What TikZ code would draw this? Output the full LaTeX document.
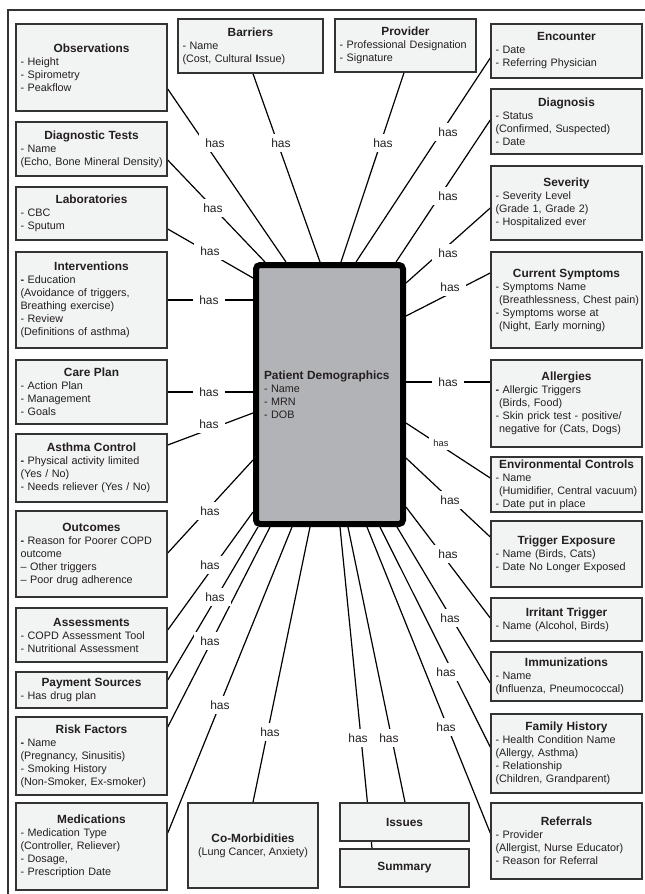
\documentclass[tikz,border=0pt]{standalone}
\usepackage{fontspec}
\setmainfont{Liberation Sans}
\usetikzlibrary{backgrounds}
\definecolor{boxfill}{RGB}{242,243,243}
\definecolor{boxline}{RGB}{51,51,51}
\definecolor{pdfill}{RGB}{178,179,183}
\definecolor{txt}{RGB}{35,31,32}
\newcommand{\ttl}[1]{\makebox[\linewidth]{\fontsize{8.9}{10}\selectfont\bfseries #1}}
\newcommand{\ttlc}[1]{{\fontsize{8.9}{10}\selectfont\bfseries #1}}
\begin{document}
\begin{tikzpicture}[x=0.75pt,y=-0.75pt,
  font=\fontsize{8.1}{9.75}\selectfont, text=txt,
  bx/.style={draw=boxline, line width=1.1pt, fill=boxfill, inner xsep=3.375pt, inner ysep=0pt, align=left},
  sbox/.style={bx, minimum width=113.25pt, text width=106.5pt},
  cbox/.style={bx, align=center},
  conn/.style={line width=0.9pt, draw=black},
  has/.style={fill=white, inner xsep=4.5pt, inner ysep=3.75pt, font=\fontsize{9}{10}\selectfont},
  smallhas/.style={has, font=\fontsize{7}{8}\selectfont, inner xsep=3pt, inner ysep=2.5pt},
  frame/.style={draw=boxline, line width=1pt}]
\useasboundingbox (0,0) rectangle (645,894);
\draw[frame] (8,894) -- (8,10) -- (645,10);

% central
\node[draw=black, line width=4.5pt, rounded corners=3pt, fill=pdfill, minimum width=110.25pt, minimum height=194.25pt, text width=98.25pt, inner xsep=6pt, inner ysep=0pt, align=left] (pd) at (329.5,394.5)
 {\ttlc{Patient Demographics}\\- Name\\- MRN\\- DOB};

% left column
\node[sbox, minimum height=65.25pt] (obs) at (91.5,67.5) {\ttl{Observations}\\- Height\\- Spirometry\\- Peakflow};
\node[sbox, minimum height=40.5pt] (diag) at (91.5,149) {\ttl{Diagnostic Tests}\\- Name\\\mbox{(Echo, Bone Mineral Density)}};
\node[sbox, minimum height=39.75pt] (lab) at (91.5,213.5) {\ttl{Laboratories}\\- CBC\\- Sputum};
\node[sbox, minimum height=72pt] (int) at (91.5,300) {\ttl{Interventions}\\\textbf{-} Education\\\mbox{(Avoidance of triggers,}\\\mbox{Breathing exercise)}\\- Review\\\mbox{(Definitions of asthma)}};
\node[sbox, minimum height=48pt] (care) at (91.5,392) {\ttl{Care Plan}\\- Action Plan\\- Management\\- Goals};
\node[sbox, minimum height=51pt] (asth) at (91.5,468) {\ttl{Asthma Control}\\\mbox{\textbf{-} Physical activity limited}\\(Yes / No)\\\mbox{- Needs reliever (Yes / No)}};
\node[sbox, minimum height=64.5pt] (outc) at (91.5,554) {\ttl{Outcomes}\\\mbox{\textbf{-} Reason for Poorer COPD}\\outcome\\\mbox{-- Other triggers}\\\mbox{-- Poor drug adherence}};
\node[sbox, minimum height=40.5pt] (assess) at (91.5,635) {\ttl{Assessments}\\\mbox{- COPD Assessment Tool}\\\mbox{- Nutritional Assessment}};
\node[sbox, minimum height=27pt] (pay) at (91.5,690) {\ttl{Payment Sources}\\- Has drug plan};
\node[sbox, minimum height=58.5pt] (risk) at (91.5,756) {\ttl{Risk Factors}\\\textbf{-} Name\\\mbox{(Pregnancy, Sinusitis)}\\- Smoking History\\\mbox{(Non-Smoker, Ex-smoker)}};
\node[sbox, minimum height=65.25pt] (med) at (91.5,846.5) {\ttl{Medications}\\- Medication Type\\\mbox{(Controller, Reliever)}\\- Dosage,\\\mbox{- Prescription Date}};

% top
\node[bx, minimum width=108.75pt, text width=102pt, minimum height=40.5pt] (bar) at (250.5,46) {\ttl{Barriers}\\- Name\\\mbox{(Cost, Cultural \textbf{I}ssue)}};
\node[bx, minimum width=105.75pt, text width=99pt, minimum height=39.75pt] (prov) at (405.5,45.5) {\ttl{Provider}\\\mbox{- Professional Designation}\\- Signature};

% right column
\node[sbox, minimum height=40.5pt] (enc) at (566.5,51) {\ttl{Encounter}\\- Date\\\mbox{- Referring Physician}};
\node[sbox, minimum height=48.75pt] (dgn) at (566.5,121.5) {\ttl{Diagnosis}\\- Status\\\mbox{(Confirmed, Suspected)}\\- Date};
\node[sbox, minimum height=55.5pt] (sev) at (566.5,203) {\ttl{Severity}\\- Severity Level\\\mbox{(Grade 1, Grade 2)}\\\mbox{- Hospitalized ever}};
\node[sbox, minimum height=72pt] (cur) at (566.5,300) {\ttl{Current Symptoms}\\\mbox{- Symptoms Name}\\\mbox{\ (Breathlessness, Chest pain)}\\\mbox{- Symptoms worse at}\\\mbox{\ (Night, Early morning)}};
\node[sbox, minimum height=65.25pt] (all) at (566.5,403.5) {\ttl{Allergies}\\\mbox{\textbf{-} Allergic Triggers}\\\mbox{\ (Birds, Food)}\\\mbox{- Skin prick test - positive/}\\\mbox{\ negative for (Cats, Dogs)}};
\node[sbox, minimum height=41.25pt] (env) at (566.5,484.5) {\ttl{Environmental Controls}\\- Name\\\mbox{\ (Humidifier, Central vacuum)}\\\mbox{- Date put in place}};
\node[sbox, minimum height=49.5pt] (trig) at (566.5,554) {\ttl{Trigger Exposure}\\\mbox{- Name (Birds, Cats)}\\\mbox{- Date No Longer Exposed}};
\node[sbox, minimum height=32.25pt] (irr) at (566.5,619.5) {\ttl{Irritant Trigger}\\\mbox{- Name (Alcohol, Birds)}};
\node[sbox, minimum height=36.75pt] (imm) at (566.5,676.5) {\ttl{Immunizations}\\- Name\\\mbox{(\textbf{I}nfluenza, Pneumococcal)}};
\node[sbox, minimum height=59.25pt] (fam) at (566.5,753.5) {\ttl{Family History}\\\mbox{- Health Condition Name}\\\mbox{(Allergy, Asthma)}\\- Relationship\\\mbox{(Children, Grandparent)}};
\node[sbox, minimum height=57pt] (ref) at (566.5,841) {\ttl{Referrals}\\- Provider\\\mbox{(Allergist, Nurse Educator)}\\\mbox{- Reason for Referral}};

% bottom
\node[cbox, minimum width=97.5pt, minimum height=63.75pt] (com) at (253,845.5) {\ttlc{Co-Morbidities}\\(Lung Cancer, Anxiety)};
\node[cbox, minimum width=96.75pt, minimum height=28.5pt] (iss) at (404.5,822) {\ttlc{Issues}};
\node[cbox, minimum width=96.75pt, minimum height=28.5pt] (sum) at (404.5,868) {\ttlc{Summary}};

% connectors
\begin{scope}[on background layer]
\draw[conn] (obs.east |- 0,89) -- (pd.north -| 286,0);
\draw[conn] (bar.south -| 253,0) -- (pd.north -| 320,0);
\draw[conn] (prov.south -| 404,0) -- (pd.north -| 341,0);
\draw[conn] (enc.west |- 0,58) -- (pd.north -| 356,0);
\draw[conn] (dgn.west |- 0,120) -- (pd.north -| 396,0);
\draw[conn] (sev.west |- 0,208) -- (pd.east |- 0,283);
\draw[conn] (cur.west |- 0,273) -- (pd.east |- 0,316);
\draw[conn] (all.west |- 0,382) -- (pd.east |- 0,382);
\draw[conn] (env.west |- 0,478) -- (pd.east |- 0,423);
\draw[conn] (trig.west |- 0,537) -- (pd.east |- 0,458);
\draw[conn] (irr.west |- 0,618) -- (pd.east |- 0,507);
\draw[conn] (imm.west |- 0,683) -- (pd.south -| 397,0);
\draw[conn] (fam.west |- 0,747) -- (pd.south -| 380,0);
\draw[conn] (ref.west |- 0,833) -- (pd.south -| 367,0);
\draw[conn] (iss.north -| 405,0) -- (pd.south -| 348,0);
\draw[conn] (sum.north -| 372,0) -- (pd.south -| 340,0);
\draw[conn] (com.north -| 253,0) -- (pd.south -| 310,0);
\draw[conn] (med.east |- 0,833) -- (pd.south -| 292,0);
\draw[conn] (risk.east |- 0,727) -- (pd.south -| 270,0);
\draw[conn] (pay.east |- 0,680) -- (pd.south -| 258,0);
\draw[conn] (assess.east |- 0,630) -- (pd.west |- 0,512);
\draw[conn] (outc.east |- 0,553) -- (pd.west |- 0,460);
\draw[conn] (asth.east |- 0,445) -- (pd.west |- 0,413);
\draw[conn] (care.east |- 0,392) -- (pd.west |- 0,392);
\draw[conn] (int.east |- 0,300) -- (pd.west |- 0,300);
\draw[conn] (lab.east |- 0,229) -- (pd.west |- 0,278);
\draw[conn] (diag.east |- 0,160) -- (pd.north -| 265,0);
\end{scope}

% labels
\node[has] (h1) at (215,143) {has};
\node[has] (h2) at (281,143) {has};
\node[has] (h3) at (383,143) {has};
\node[has] (h4) at (448,132) {has};
\node[has] (h5) at (448,196) {has};
\node[has] (h6) at (448,253) {has};
\node[has] (h7) at (450,287) {has};
\node[has] (h8) at (448,382) {has};
\node[smallhas] (h9) at (441,443) {has};
\node[has] (h10) at (450,500) {has};
\node[has] (h11) at (448,554) {has};
\node[has] (h12) at (450,618) {has};
\node[has] (h13) at (446,672) {has};
\node[has] (h14) at (446,727) {has};
\node[has] (h15) at (389,738) {has};
\node[has] (h16) at (358,738) {has};
\node[has] (h17) at (270,732) {has};
\node[has] (h18) at (220,705) {has};
\node[has] (h19) at (210,641) {has};
\node[has] (h20) at (215,597) {has};
\node[has] (h21) at (210,565) {has};
\node[has] (h22) at (210,511) {has};
\node[has] (h23) at (209,424) {has};
\node[has] (h24) at (209,392) {has};
\node[has] (h25) at (209,300) {has};
\node[has] (h26) at (210,251) {has};
\node[has] (h27) at (213,208) {has};
\end{tikzpicture}
\end{document}
